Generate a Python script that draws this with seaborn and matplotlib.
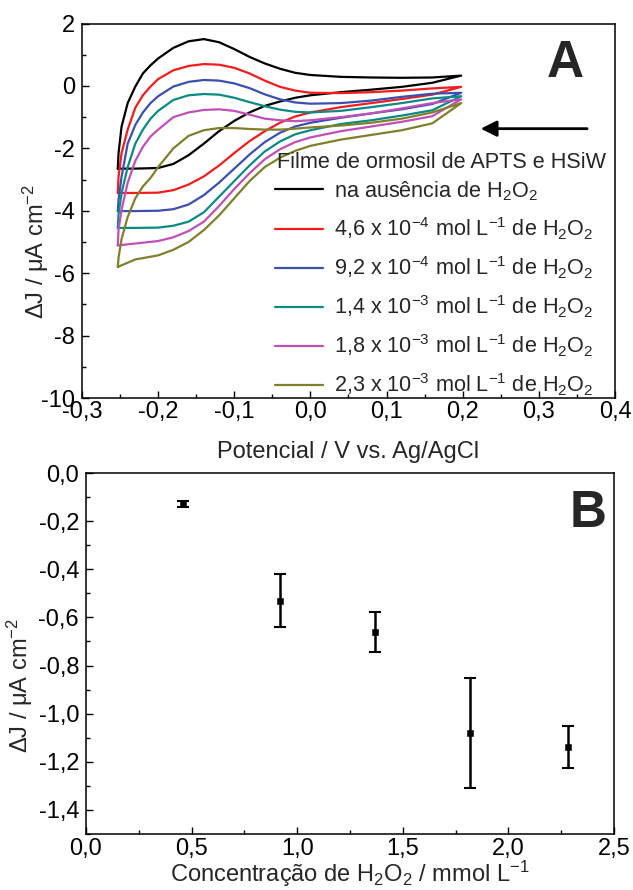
import matplotlib
matplotlib.use("Agg")
import matplotlib.pyplot as plt
from matplotlib.ticker import MultipleLocator, FuncFormatter
import seaborn as sns

# Panel A: cyclic voltammograms, potential grid shared by all curves
# forward sweep (lower branch) then reverse sweep (upper branch), V vs Ag/AgCl
e_fwd = [-0.253, -0.23, -0.2, -0.18, -0.16, -0.14, -0.12, -0.10, -0.08, -0.06,
         -0.04, -0.02, 0.0, 0.04, 0.08, 0.12, 0.16, 0.198]
e_rev = [0.16, 0.12, 0.08, 0.04, 0.0, -0.02, -0.04, -0.06, -0.08, -0.10, -0.12,
         -0.14, -0.16, -0.18, -0.20, -0.21, -0.22, -0.23, -0.24, -0.248, -0.252, -0.253]

j_blank_fwd = [-2.65, -2.65, -2.63, -2.5, -2.22, -1.85, -1.45, -1.12, -0.85, -0.64,
               -0.5, -0.38, -0.3, -0.2, -0.12, -0.03, 0.1, 0.33]
j_blank_rev = [0.27, 0.26, 0.27, 0.29, 0.35, 0.42, 0.55, 0.72, 0.93, 1.18, 1.4,
               1.5, 1.43, 1.22, 0.88, 0.66, 0.4, -0.02, -0.55, -1.3, -2.15, -2.65]

j_046_fwd = [-3.43, -3.43, -3.42, -3.34, -3.16, -2.9, -2.55, -2.15, -1.77, -1.45,
             -1.18, -0.98, -0.85, -0.68, -0.55, -0.42, -0.28, -0.03]
j_046_rev = [-0.08, -0.15, -0.2, -0.23, -0.22, -0.15, -0.03, 0.17, 0.4, 0.58, 0.68,
             0.7, 0.64, 0.5, 0.22, -0.02, -0.3, -0.7, -1.4, -2.15, -2.9, -3.43]

j_092_fwd = [-4.01, -4.01, -4.0, -3.95, -3.8, -3.5, -3.1, -2.65, -2.2, -1.8,
             -1.5, -1.3, -1.18, -1.02, -0.88, -0.75, -0.58, -0.22]
j_092_rev = [-0.25, -0.35, -0.47, -0.55, -0.57, -0.53, -0.43, -0.27, -0.07, 0.08, 0.17,
             0.19, 0.13, -0.02, -0.33, -0.55, -0.85, -1.25, -1.85, -2.9, -3.64, -4.01]

j_14_fwd = [-4.55, -4.55, -4.54, -4.48, -4.35, -4.05, -3.55, -3.05, -2.55, -2.1,
            -1.78, -1.55, -1.42, -1.22, -1.1, -0.95, -0.78, -0.33]
j_14_rev = [-0.4, -0.55, -0.68, -0.8, -0.85, -0.83, -0.76, -0.65, -0.52, -0.38, -0.28,
            -0.26, -0.3, -0.45, -0.8, -1.05, -1.4, -1.85, -2.6, -3.43, -4.1, -4.55]

j_18_fwd = [-5.11, -5.05, -4.97, -4.85, -4.65, -4.35, -3.85, -3.3, -2.8, -2.35,
            -2.03, -1.8, -1.65, -1.45, -1.3, -1.15, -0.97, -0.43]
j_18_rev = [-0.55, -0.72, -0.88, -1.0, -1.1, -1.13, -1.1, -1.05, -0.92, -0.8, -0.75,
            -0.77, -0.85, -1.0, -1.4, -1.62, -1.95, -2.4, -3.1, -3.96, -4.6, -5.11]

j_23_fwd = [-5.8, -5.56, -5.43, -5.25, -5.0, -4.62, -4.15, -3.6, -3.05, -2.6,
            -2.3, -2.08, -1.92, -1.72, -1.57, -1.42, -1.2, -0.55]
j_23_rev = [-0.85, -1.05, -1.18, -1.27, -1.33, -1.37, -1.4, -1.4, -1.38, -1.35, -1.35,
            -1.42, -1.6, -2.0, -2.6, -2.95, -3.22, -3.6, -4.2, -4.9, -5.5, -5.8]

legend_title = "Filme de ormosil de APTS e HSiW"
cv_labels = [
    "na ausência de H$_2$O$_2$",
    "4,6 x 10$^{-4}$ mol L$^{-1}$ de H$_2$O$_2$",
    "9,2 x 10$^{-4}$ mol L$^{-1}$ de H$_2$O$_2$",
    "1,4 x 10$^{-3}$ mol L$^{-1}$ de H$_2$O$_2$",
    "1,8 x 10$^{-3}$ mol L$^{-1}$ de H$_2$O$_2$",
    "2,3 x 10$^{-3}$ mol L$^{-1}$ de H$_2$O$_2$",
]
cv_colors = ["#000000", "#f21c1c", "#3a50b0", "#0a8a84", "#c050b8", "#80802a"]

# Panel B: current change vs H2O2 concentration
conc = [0.46, 0.92, 1.37, 1.82, 2.28]
dj = [-0.13, -0.53, -0.66, -1.08, -1.14]
dj_err = [0.013, 0.11, 0.083, 0.23, 0.087]

sns.set_style("ticks")
plt.rcParams['font.family'] = ['Liberation Sans', 'DejaVu Sans']
plt.rcParams['mathtext.fontset'] = 'custom'
plt.rcParams['mathtext.rm'] = 'Liberation Sans'
plt.rcParams['mathtext.it'] = 'Liberation Sans:italic'
plt.rcParams['mathtext.default'] = 'regular'

tick_fs = 17
label_fs = 17
legend_fs = 15.6


def comma(fmt):
    return FuncFormatter(lambda v, p: fmt.format(round(v, 6) + 0.0).replace('.', ','))


def style_axes(ax):
    for s in ax.spines.values():
        s.set_linewidth(1.1)
        s.set_color('black')
    ax.tick_params(which='both', direction='in', top=False, right=False,
                   colors='black', labelsize=tick_fs, width=1.0)
    ax.tick_params(which='major', length=5)
    ax.tick_params(which='minor', length=3)


fig = plt.figure(figsize=(6.33, 8.90), dpi=100)
ax1 = fig.add_axes([82 / 633, 1 - 398 / 890, 533 / 633, 374.5 / 890])
ax2 = fig.add_axes([86 / 633, 1 - 834 / 890, 528 / 633, 361 / 890])

curves = [(j_blank_fwd, j_blank_rev), (j_046_fwd, j_046_rev), (j_092_fwd, j_092_rev),
          (j_14_fwd, j_14_rev), (j_18_fwd, j_18_rev), (j_23_fwd, j_23_rev)]
for (jf, jr), lab, col in zip(curves, cv_labels, cv_colors):
    sns.lineplot(x=e_fwd + e_rev, y=jf + jr, sort=False, estimator=None,
                 color=col, lw=1.6, ax=ax1, label=lab)

ax1.set_xlim(-0.3, 0.4)
ax1.set_ylim(-10, 2)
ax1.xaxis.set_major_locator(MultipleLocator(0.1))
ax1.xaxis.set_minor_locator(MultipleLocator(0.05))
ax1.yaxis.set_major_locator(MultipleLocator(2))
ax1.yaxis.set_minor_locator(MultipleLocator(1))
ax1.xaxis.set_major_formatter(comma("{:.1f}"))
ax1.yaxis.set_major_formatter(comma("{:.0f}"))
style_axes(ax1)
ax1.tick_params(axis='x', pad=2)
ax1.tick_params(axis='y', pad=5)
ax1.set_xlabel("Potencial / V vs. Ag/AgCl", fontsize=label_fs)
ax1.set_ylabel("ΔJ / μA cm$^{-2}$", fontsize=label_fs)
ax1.xaxis.set_label_coords(0.5, -0.115)
ax1.yaxis.set_label_coords(-0.058, 0.39)

ax1.legend(frameon=False, fontsize=legend_fs,
           loc='lower left', bbox_to_anchor=(0.363, 0.0),
           handlelength=2.2, handletextpad=0.5, labelspacing=0.58,
           borderpad=0, borderaxespad=0)
ax1.text(0.366, 0.630, legend_title, transform=ax1.transAxes,
         fontsize=legend_fs, ha='left', va='center')

ax1.annotate('', xy=(0.22, -1.37), xytext=(0.367, -1.37),
             arrowprops=dict(arrowstyle='-|>', color='black', lw=2,
                             mutation_scale=24))
ax1.text(0.906, 0.893, 'A', transform=ax1.transAxes, fontsize=37,
         fontweight='bold', ha='center', va='center')

sns.scatterplot(x=conc, y=dj, marker='s', s=22, color='black',
                edgecolor='black', ax=ax2, zorder=3)
ax2.errorbar(conc, dj, yerr=dj_err, fmt='none', ecolor='black',
             elinewidth=1.8, capsize=4, capthick=1.5)
ax2.set_xlim(0, 2.5)
ax2.set_ylim(-1.5, 0.0)
ax2.xaxis.set_major_locator(MultipleLocator(0.5))
ax2.xaxis.set_minor_locator(MultipleLocator(0.25))
ax2.yaxis.set_major_locator(MultipleLocator(0.2))
ax2.yaxis.set_minor_locator(MultipleLocator(0.1))
ax2.xaxis.set_major_formatter(comma("{:.1f}"))
ax2.yaxis.set_major_formatter(comma("{:.1f}"))
style_axes(ax2)
ax2.tick_params(axis='x', pad=3)
ax2.tick_params(axis='y', pad=5)
ax2.set_xlabel("Concentração de H$_2$O$_2$ / mmol L$^{-1}$", fontsize=label_fs)
ax2.set_ylabel("ΔJ / μA cm$^{-2}$", fontsize=label_fs)
ax2.xaxis.set_label_coords(0.5, -0.068)
ax2.yaxis.set_label_coords(-0.096, 0.41)
ax2.text(0.951, 0.888, 'B', transform=ax2.transAxes, fontsize=37,
         fontweight='bold', ha='center', va='center')

fig.savefig("out.png", dpi=100)
